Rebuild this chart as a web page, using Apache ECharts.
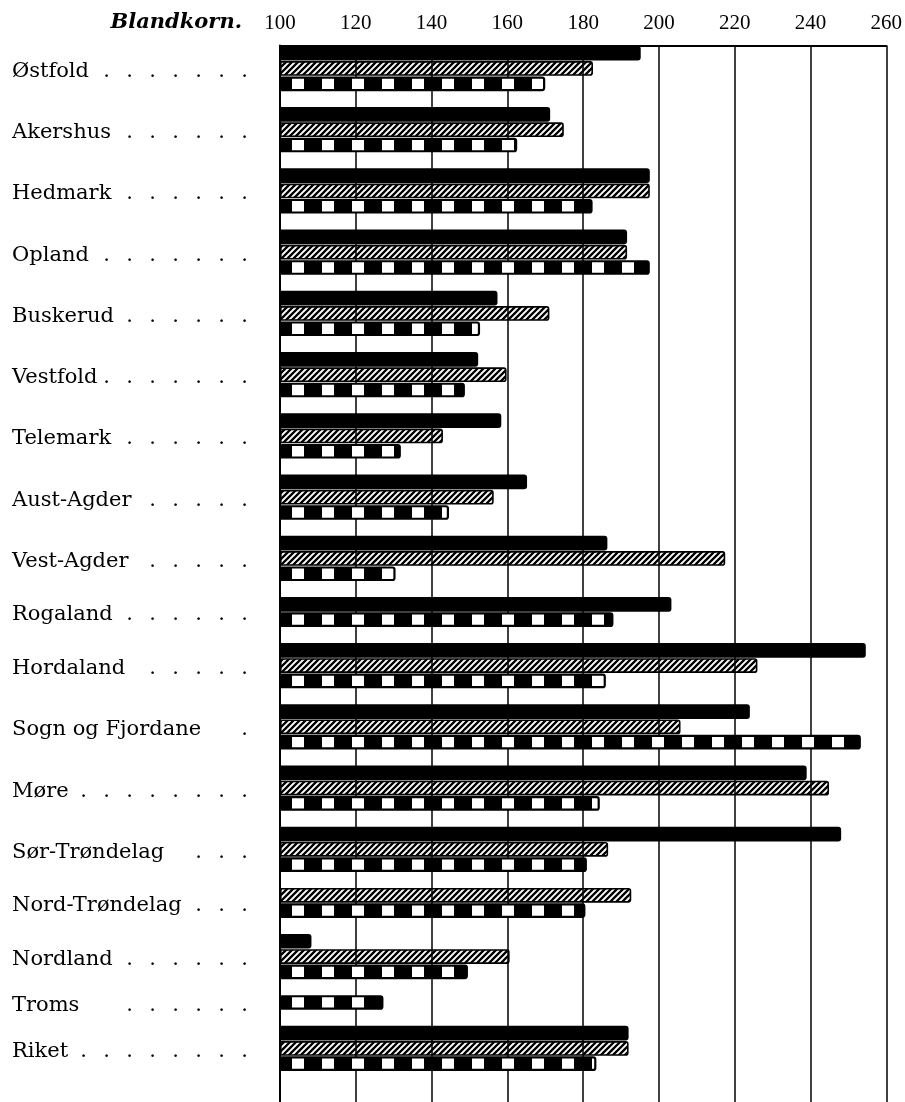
<!DOCTYPE html>
<html>
<head>
<meta charset="utf-8">
<script src="https://cdn.jsdelivr.net/npm/echarts@6/dist/echarts.min.js"></script>
<style>
html,body{margin:0;padding:0;background:#fff;}
#chart{width:905px;height:1102px;}
</style>
</head>
<body>
<div id="chart"></div>
<script>
// ---- data ----
const chartTitle = 'Blandkorn.';
const regions = ['Østfold','Akershus','Hedmark','Opland','Buskerud','Vestfold','Telemark','Aust-Agder','Vest-Agder','Rogaland','Hordaland','Sogn og Fjordane','Møre','Sør-Trøndelag','Nord-Trøndelag','Nordland','Troms','Riket'];
const leaderDots = [7,6,6,7,6,7,6,5,5,6,5,1,8,3,3,6,6,8];
const solidValues   = [195.2,171.3,197.6,191.6,157.4,152.3,158.4,165.2,186.4,203.3,254.6,224.0,239.0,248.1,null,108.3,null,192.0];
const hatchedValues = [182.6,174.9,197.6,191.6,171.1,159.8,143.0,156.4,217.5,null,226.0,205.7,244.9,186.6,192.7,160.6,null,192.0];
const checkedValues = [170.0,162.6,182.5,197.6,152.8,148.8,131.9,144.6,130.5,188.0,186.0,253.3,184.4,181.0,180.6,149.6,127.3,183.5];
const xTicks = {min:100, max:260, step:20};

// ---- row layout (one category per bar row, one empty row after each region) ----
const seriesValues = [solidValues, hatchedValues, checkedValues];
const rows = [];
regions.forEach((name, i) => {
  const present = [];
  seriesValues.forEach((arr, s) => { if (arr[i] != null) present.push(s); });
  const start = rows.length;
  present.forEach(s => rows.push({region: i, s: s, label: null}));
  rows.push({region: i, s: -1, label: null});
  if (present.length === 3) rows[start + 1].label = 'a';
  else if (present.length === 2) rows[start].label = 'b';
  else rows[start].label = 'a';
});
rows.push({region: -1, s: -1, label: null});

// ---- patterns ----
function hatchPattern() {
  const c = document.createElement('canvas');
  c.width = 12; c.height = 12;
  const g = c.getContext('2d');
  g.strokeStyle = '#000'; g.lineWidth = 2.3; g.lineCap = 'square';
  for (const k of [-12, -6, 0, 6, 12]) {
    g.beginPath(); g.moveTo(k, 12); g.lineTo(k + 12, 0); g.stroke();
  }
  return c;
}
function checkPattern() {
  const c = document.createElement('canvas');
  c.width = 30; c.height = 4;
  const g = c.getContext('2d');
  g.fillStyle = '#000'; g.fillRect(0, 0, 30, 4);
  g.fillStyle = '#fff'; g.fillRect(22, 0, 8, 4); g.fillRect(0, 0, 4, 4);
  return c;
}

const labelFont = 'DejaVu Serif';
const shiftA = 6, shiftB = 21;
const rich = {
  na: {fontFamily: labelFont, fontSize: 21, color: '#000', padding: [shiftA, 0, 0, 0]},
  da: {fontFamily: labelFont, fontSize: 21, color: '#000', width: 23, align: 'right', padding: [shiftA, 0, 0, 0]},
  nb: {fontFamily: labelFont, fontSize: 21, color: '#000', padding: [shiftB, 0, 0, 0]},
  db: {fontFamily: labelFont, fontSize: 21, color: '#000', width: 23, align: 'right', padding: [shiftB, 0, 0, 0]}
};

function rowData(s) {
  return rows.map(r => (r.s === s ? seriesValues[s][r.region] : '-'));
}

const common = {
  type: 'bar', barGap: '-100%', barCategoryGap: '4%', clip: true,
  emphasis: {disabled: true}, animation: false
};

const chart = echarts.init(document.getElementById('chart'), null, {renderer: 'canvas'});
chart.setOption({
  backgroundColor: '#fff',
  animation: false,
  title: {
    text: chartTitle, right: 658, top: 7,
    textStyle: {fontFamily: labelFont, fontStyle: 'italic', fontWeight: 'bold', fontSize: 21, color: '#000'}
  },
  grid: {left: 280, right: 15, top: 45.5, bottom: 0, containLabel: false},
  xAxis: {
    type: 'value', position: 'top',
    min: xTicks.min, max: xTicks.max, interval: xTicks.step, startValue: xTicks.min,
    axisLine: {show: true, lineStyle: {color: '#000', width: 2}},
    axisTick: {show: false},
    axisLabel: {fontFamily: 'Liberation Serif', fontSize: 21, color: '#000', margin: 12},
    splitLine: {show: true, lineStyle: {color: '#000', width: 1.5}}
  },
  yAxis: {
    type: 'category', inverse: true,
    data: rows.map((r, i) => 'r' + i),
    axisLine: {show: true, lineStyle: {color: '#000', width: 2}},
    axisTick: {show: false},
    splitLine: {show: false},
    axisLabel: {
      interval: 0, align: 'left', margin: 268, width: 236, overflow: 'none',
      hideOverlap: false,
      formatter: function (v, idx) {
        const r = rows[idx];
        if (!r || !r.label) return '';
        const k = r.label;
        let s = '{n' + k + '|' + regions[r.region] + '}';
        for (let j = 0; j < leaderDots[r.region]; j++) s += '{d' + k + '|.}';
        return s;
      },
      rich: rich
    }
  },
  series: [
    Object.assign({}, common, {
      name: 'solid', data: rowData(0),
      itemStyle: {color: '#000', borderRadius: [0, 3, 3, 0]}
    }),
    Object.assign({}, common, {
      name: 'hatched', data: rowData(1),
      itemStyle: {color: {image: hatchPattern(), repeat: 'repeat'}, borderColor: '#000', borderWidth: 1.6, borderRadius: [0, 2, 2, 0]}
    }),
    Object.assign({}, common, {
      name: 'checked', data: rowData(2),
      itemStyle: {color: {image: checkPattern(), repeat: 'repeat'}, borderColor: '#000', borderWidth: 2.2, borderRadius: [0, 2, 2, 0]}
    })
  ]
});
</script>
</body>
</html>
